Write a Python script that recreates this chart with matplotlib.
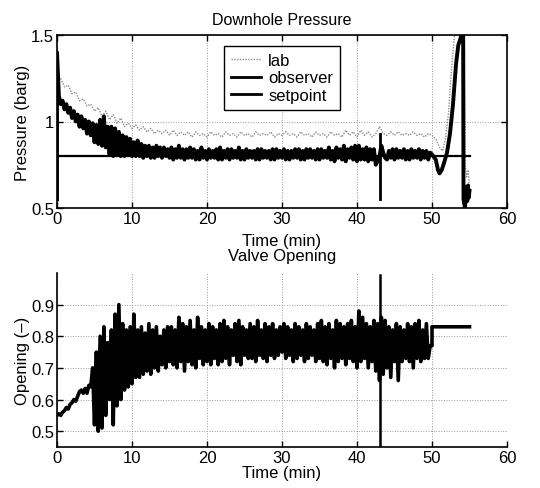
import numpy as np
import matplotlib
matplotlib.use("Agg")
import matplotlib.pyplot as plt

plt.rcParams['font.family'] = ['Liberation Sans', 'DejaVu Sans']
plt.rcParams['font.size'] = 12

# ---------------- data: downhole pressure ----------------
setpoint_t = [0.0, 55.0]
setpoint_v = [0.80, 0.80]

# observer, head + grid (0.25 min step from 0 to 49.75) + tail
obs_head_t = [0.0]
obs_head_v = [0.55]
obs_grid_v = [
    1.40, 1.15, 1.10, 1.12,
    1.07, 1.10, 1.05, 1.08,
    1.02, 1.06, 1.00, 1.04,
    0.97, 1.03, 0.96, 1.01,
    0.93, 1.00, 0.92, 0.99,
    0.88, 0.98, 0.87, 1.01,
    0.86, 1.03, 0.85, 0.97,
    0.81, 0.97, 0.80, 0.96,
    0.81, 0.94, 0.80, 0.92,
    0.80, 0.91, 0.81, 0.90,
    0.80, 0.88, 0.80, 0.89,
    0.80, 0.87, 0.79, 0.86,
    0.80, 0.86, 0.79, 0.85,
    0.79, 0.86, 0.80, 0.85,
    0.79, 0.85, 0.80, 0.84,
    0.79, 0.85, 0.78, 0.84,
    0.79, 0.86, 0.79, 0.84,
    0.78, 0.84, 0.79, 0.85,
    0.79, 0.84, 0.78, 0.83,
    0.78, 0.85, 0.79, 0.83,
    0.78, 0.84, 0.79, 0.83,
    0.79, 0.84, 0.78, 0.85,
    0.78, 0.83, 0.79, 0.84,
    0.78, 0.84, 0.79, 0.83,
    0.79, 0.85, 0.78, 0.83,
    0.78, 0.84, 0.79, 0.83,
    0.79, 0.83, 0.78, 0.84,
    0.78, 0.84, 0.79, 0.83,
    0.79, 0.83, 0.78, 0.84,
    0.78, 0.84, 0.79, 0.83,
    0.79, 0.84, 0.78, 0.83,
    0.78, 0.83, 0.79, 0.84,
    0.79, 0.84, 0.78, 0.83,
    0.78, 0.84, 0.79, 0.84,
    0.79, 0.83, 0.78, 0.84,
    0.78, 0.84, 0.79, 0.83,
    0.79, 0.85, 0.78, 0.83,
    0.77, 0.85, 0.79, 0.84,
    0.78, 0.86, 0.77, 0.84,
    0.79, 0.85, 0.78, 0.86,
    0.77, 0.86, 0.78, 0.84,
    0.78, 0.85, 0.77, 0.84,
    0.78, 0.84, 0.75, 0.77,
    0.80, 0.86, 0.82, 0.79,
    0.78, 0.83, 0.79, 0.84,
    0.78, 0.84, 0.79, 0.83,
    0.79, 0.84, 0.78, 0.83,
    0.78, 0.84, 0.79, 0.83,
    0.79, 0.84, 0.78, 0.83,
    0.79, 0.83, 0.78, 0.82,
]
obs_tail_t = [50.0, 50.5, 50.8, 51.0, 51.3, 51.6, 52.0, 52.4, 52.8, 53.2,
              53.5, 53.8, 54.0, 54.15, 54.2, 54.4, 54.55, 54.7, 54.8, 54.9, 55.0]
obs_tail_v = [0.81, 0.78, 0.72, 0.70, 0.72, 0.76, 0.82, 0.93, 1.10, 1.33,
              1.44, 1.48, 1.52, 1.56, 0.55, 0.50, 0.62, 0.54, 0.63, 0.56, 0.60]
obs_spike_t = [43.0, 43.0]
obs_spike_v = [0.55, 0.93]

# lab measurement (0.5 min step from 0.5 to 50) + tail
lab_grid_v = [
    1.25, 1.20, 1.21, 1.16, 1.17, 1.12, 1.13, 1.09, 1.10, 1.06,
    1.08, 1.03, 1.06, 1.01, 1.04, 0.99, 1.02, 0.97, 0.99, 0.96,
    0.98, 0.95, 0.97, 0.94, 0.96, 0.93, 0.95, 0.93, 0.95, 0.92,
    0.95, 0.92, 0.94, 0.92, 0.94, 0.91, 0.94, 0.92, 0.93, 0.91,
    0.94, 0.92, 0.93, 0.91, 0.94, 0.92, 0.93, 0.91, 0.94, 0.92,
    0.93, 0.91, 0.94, 0.92, 0.93, 0.92, 0.94, 0.91, 0.93, 0.92,
    0.94, 0.92, 0.93, 0.91, 0.94, 0.92, 0.93, 0.91, 0.94, 0.92,
    0.93, 0.91, 0.94, 0.92, 0.93, 0.91, 0.95, 0.92, 0.94, 0.91,
    0.95, 0.92, 0.94, 0.91, 0.93, 0.97, 0.93, 0.92, 0.94, 0.92,
    0.94, 0.92, 0.93, 0.92, 0.94, 0.92, 0.93, 0.91, 0.93, 0.92,
]
lab_tail_t = [50.5, 51.0, 51.4, 51.8, 52.2, 52.6, 53.0, 53.5, 54.3, 54.45, 54.6, 54.8, 55.0]
lab_tail_v = [0.90, 0.85, 0.83, 0.90, 1.05, 1.30, 1.50, 1.62, 1.62, 0.75, 0.68, 0.72, 0.62]

# ---------------- data: valve opening ----------------
valve_grid_v = [
    0.55, 0.555, 0.55, 0.56,
    0.565, 0.575, 0.57, 0.585,
    0.59, 0.60, 0.595, 0.61,
    0.625, 0.63, 0.62, 0.635,
    0.62, 0.645, 0.64, 0.70,
    0.52, 0.75, 0.50, 0.80,
    0.51, 0.83, 0.55, 0.78,
    0.60, 0.82, 0.52, 0.87,
    0.58, 0.90, 0.60, 0.84,
    0.63, 0.82, 0.64, 0.83,
    0.65, 0.87, 0.67, 0.82,
    0.67, 0.83, 0.68, 0.81,
    0.69, 0.84, 0.68, 0.82,
    0.70, 0.83, 0.69, 0.80,
    0.71, 0.82, 0.70, 0.83,
    0.72, 0.83, 0.71, 0.82,
    0.70, 0.86, 0.72, 0.84,
    0.69, 0.83, 0.72, 0.85,
    0.71, 0.82, 0.70, 0.86,
    0.73, 0.83, 0.71, 0.82,
    0.72, 0.84, 0.71, 0.83,
    0.73, 0.82, 0.71, 0.84,
    0.72, 0.85, 0.73, 0.83,
    0.71, 0.82, 0.74, 0.84,
    0.72, 0.85, 0.71, 0.83,
    0.74, 0.82, 0.73, 0.84,
    0.73, 0.83, 0.72, 0.85,
    0.74, 0.82, 0.73, 0.84,
    0.72, 0.83, 0.74, 0.84,
    0.73, 0.82, 0.74, 0.83,
    0.75, 0.84, 0.73, 0.83,
    0.74, 0.82, 0.72, 0.84,
    0.73, 0.83, 0.74, 0.82,
    0.72, 0.84, 0.73, 0.83,
    0.74, 0.82, 0.72, 0.84,
    0.73, 0.85, 0.72, 0.83,
    0.71, 0.84, 0.73, 0.82,
    0.70, 0.85, 0.72, 0.84,
    0.73, 0.83, 0.71, 0.84,
    0.73, 0.85, 0.72, 0.83,
    0.70, 0.88, 0.72, 0.86,
    0.73, 0.84, 0.70, 0.83,
    0.72, 0.85, 0.69, 0.84,
    0.66, 0.86, 0.68, 0.85,
    0.70, 0.83, 0.67, 0.82,
    0.72, 0.84, 0.66, 0.83,
    0.72, 0.82, 0.73, 0.84,
    0.72, 0.83, 0.70, 0.84,
    0.73, 0.85, 0.72, 0.82,
    0.73, 0.84, 0.73, 0.77,
]
valve_tail_t = [50.0, 50.0, 55.0]
valve_tail_v = [0.77, 0.83, 0.83]
valve_spike_t = [43.0, 43.0]
valve_spike_v = [0.40, 0.995]

# dense core of the early oscillation burst (read envelope)
burst_t = [4.5, 5.0, 5.5, 6.0, 6.5, 7.0, 7.5, 8.0, 8.5, 9.0, 9.5, 10.0, 11.0, 12.0]
burst_lo = [0.66, 0.60, 0.58, 0.60, 0.62, 0.62, 0.61, 0.62, 0.64, 0.65, 0.66, 0.68, 0.70, 0.71]
burst_hi = [0.68, 0.72, 0.76, 0.78, 0.76, 0.78, 0.80, 0.80, 0.79, 0.78, 0.79, 0.80, 0.80, 0.80]

x_ticks = [0, 10, 20, 30, 40, 50, 60]
p_ticks = [0.5, 1.0, 1.5]
p_ticklabels = ['0.5', '1', '1.5']
v_ticks = [0.5, 0.6, 0.7, 0.8, 0.9]
v_ticklabels = ['0.5', '0.6', '0.7', '0.8', '0.9']

# ---------------- assemble series ----------------
obs_grid_t = np.arange(len(obs_grid_v)) * 0.25
obs_t = np.concatenate([obs_head_t, obs_grid_t, obs_tail_t])
obs_v = np.concatenate([obs_head_v, obs_grid_v, obs_tail_v])
lab_grid_t = 0.5 + np.arange(len(lab_grid_v)) * 0.5
lab_t = np.concatenate([lab_grid_t, lab_tail_t])
lab_v = np.concatenate([lab_grid_v, lab_tail_v])
valve_grid_t = np.arange(len(valve_grid_v)) * 0.25
valve_t = np.concatenate([valve_grid_t, valve_tail_t])
valve_v = np.concatenate([valve_grid_v, valve_tail_v])

fig = plt.figure(figsize=(5.4, 4.89), dpi=100)
ax1 = fig.add_axes([57/540, 1-209/489, 450/540, 173/489])
ax2 = fig.add_axes([57/540, 1-448/489, 450/540, 174/489])

grid_kw = dict(color='0.6', linestyle=':', linewidth=0.7)

# top
ax1.plot(lab_t, lab_v, color='0.55', linestyle=(0, (1, 1)), linewidth=1.0, label='lab', zorder=3)
ax1.plot(obs_t, obs_v, color='black', linewidth=2.8, label='observer', zorder=4)
ax1.plot(obs_spike_t, obs_spike_v, color='black', linewidth=2.0, zorder=4)
ax1.plot(setpoint_t, setpoint_v, color='black', linewidth=1.6, label='setpoint', zorder=5)
ax1.set_xlim(0, 60)
ax1.set_ylim(0.5, 1.5)
ax1.set_xticks(x_ticks)
ax1.set_yticks(p_ticks)
ax1.set_yticklabels(p_ticklabels)
ax1.grid(True, **grid_kw)
ax1.tick_params(direction='in', top=True, right=True, length=4, width=1, labelsize=12, pad=2)
for s in ax1.spines.values():
    s.set_linewidth(1.2)
ax1.set_title('Downhole Pressure', fontsize=11.5, pad=8)
ax1.set_xlabel('Time (min)', fontsize=12, labelpad=5)
ax1.set_ylabel('Pressure (barg)', fontsize=12, labelpad=1)
handles, labels = ax1.get_legend_handles_labels()
leg = ax1.legend(handles, labels, loc='upper center', bbox_to_anchor=(0.5, 0.935), fancybox=False,
                 framealpha=1, edgecolor='black', fontsize=12, handlelength=1.8,
                 borderpad=0.4, labelspacing=0.15, handletextpad=0.45, borderaxespad=0)
leg.get_frame().set_linewidth(1.0)
for line in leg.get_lines():
    if line.get_label() != 'lab':
        line.set_linewidth(2.0)

# bottom
ax2.fill_between(burst_t, burst_lo, burst_hi, color='black', linewidth=0, zorder=4)
ax2.plot(valve_t, valve_v, color='black', linewidth=2.6, zorder=4)
ax2.plot(valve_spike_t, valve_spike_v, color='black', linewidth=1.8, zorder=4)
ax2.set_xlim(0, 60)
ax2.set_ylim(0.45, 1.0)
ax2.set_xticks(x_ticks)
ax2.set_yticks(v_ticks)
ax2.set_yticklabels(v_ticklabels)
ax2.grid(True, **grid_kw)
ax2.spines['top'].set_visible(False)
ax2.spines['right'].set_visible(False)
for s in ax2.spines.values():
    s.set_linewidth(1.2)
ax2.tick_params(direction='in', length=4, width=1, labelsize=12, pad=2)
ax2.set_title('Valve Opening', fontsize=12, pad=9)
ax2.set_xlabel('Time (min)', fontsize=12, labelpad=0)
ax2.set_ylabel('Opening (–)', fontsize=12, labelpad=1)

fig.savefig('out.png', dpi=100)
